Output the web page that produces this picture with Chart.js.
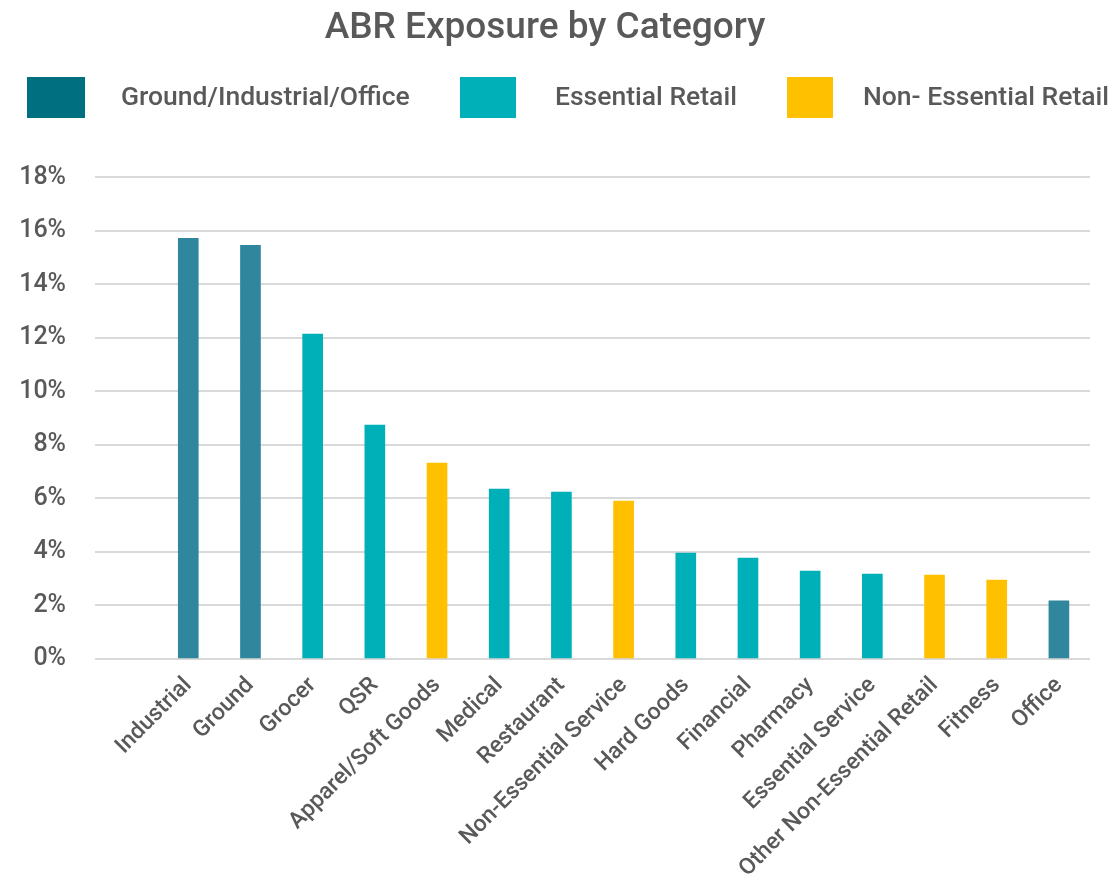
<!DOCTYPE html>
<html>
<head>
<meta charset="utf-8">
<script src="https://cdn.jsdelivr.net/npm/chart.js@4.4.1/dist/chart.umd.min.js"></script>
<style>
  html, body { margin: 0; padding: 0; background: #ffffff; }
  #wrap { width: 1112px; height: 886px; }
</style>
</head>
<body>
<div id="wrap"><canvas id="c" width="1112" height="886"></canvas></div>
<script>
// ---- data ----
const categories = ['', 'Industrial', 'Ground', 'Grocer', 'QSR', 'Apparel/Soft Goods', 'Medical', 'Restaurant',
  'Non-Essential Service', 'Hard Goods', 'Financial', 'Pharmacy', 'Essential Service',
  'Other Non-Essential Retail', 'Fitness', 'Office'];
const abrValues = [null, 15.72, 15.46, 12.14, 8.74, 7.32, 6.35, 6.24, 5.90, 3.96, 3.77, 3.29, 3.17, 3.14, 2.95, 2.17];
const groupOfCategory = [null, 0, 0, 1, 1, 2, 1, 1, 2, 1, 1, 1, 1, 2, 2, 0];
const groupNames = ['Ground/Industrial/Office', 'Essential Retail', 'Non- Essential Retail'];
const yTicks = [0, 2, 4, 6, 8, 10, 12, 14, 16, 18];
const chartTitle = 'ABR Exposure by Category';

// ---- styles ----
const barColors = ['#30869C', '#00B0B9', '#FFC000'];
const legendColors = ['#006F7F', '#00B0B9', '#FFC000'];
const textColor = '#595959';
const font = 'Roboto';

// custom legend layout (box x, box width, text x)
const legendItems = [
  { bx: 27, bw: 58, tx: 121 },
  { bx: 460, bw: 56, tx: 555 },
  { bx: 787, bw: 46, tx: 863 }
];

const legendPlugin = {
  id: 'customLegend',
  afterDraw(chart) {
    const ctx = chart.ctx;
    ctx.save();
    ctx.font = '500 26.5px ' + font;
    ctx.textBaseline = 'middle';
    ctx.textAlign = 'left';
    groupNames.forEach((name, i) => {
      const it = legendItems[i];
      ctx.fillStyle = legendColors[i];
      ctx.fillRect(it.bx, 77, it.bw, 41);
      ctx.fillStyle = textColor;
      ctx.fillText(name, it.tx, 98);
    });
    ctx.restore();
  }
};

new Chart(document.getElementById('c'), {
  type: 'bar',
  data: {
    labels: categories,
    datasets: [{
      label: 'ABR',
      data: abrValues,
      backgroundColor: groupOfCategory.map(g => g === null ? 'rgba(0,0,0,0)' : barColors[g]),
      barThickness: 20
    }]
  },
  options: {
    responsive: false,
    devicePixelRatio: 1,
    animation: false,
    layout: { padding: { left: 0, right: 22, top: 0, bottom: 0 } },
    plugins: {
      legend: { display: false },
      tooltip: { enabled: false },
      title: {
        display: true,
        text: chartTitle,
        color: textColor,
        font: { family: font, size: 37, weight: '500' },
        padding: { top: 7, bottom: 126 }
      }
    },
    scales: {
      x: {
        grid: { display: false, drawTicks: false },
        border: { display: false },
        ticks: {
          color: textColor,
          font: { family: font, size: 23, weight: '500' },
          minRotation: 45,
          maxRotation: 45,
          autoSkip: false,
          padding: 13
        },
        afterFit(scale) { scale.height = 227; }
      },
      y: {
        min: 0,
        max: 18,
        afterBuildTicks(scale) { scale.ticks = yTicks.map(v => ({ value: v })); },
        grid: { color: '#D9D9D9', lineWidth: 2, drawTicks: false },
        border: { display: false },
        ticks: {
          color: textColor,
          font: { family: font, size: 25, weight: '500' },
          padding: 29,
          callback: v => v + '%'
        },
        afterFit(scale) { scale.width = 95; }
      }
    }
  },
  plugins: [legendPlugin]
});
</script>
</body>
</html>
